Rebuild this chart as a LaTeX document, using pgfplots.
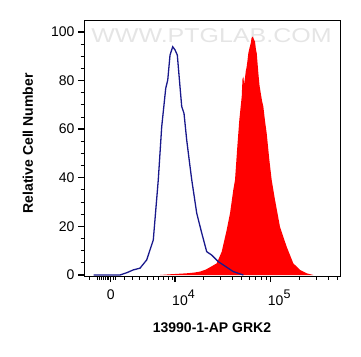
\documentclass[border=0pt]{standalone}
\usepackage{fontspec}
\setmainfont{Liberation Sans}
\usepackage{pgfplots}
\pgfplotsset{compat=1.18}
\definecolor{navyline}{RGB}{25,25,140}
\newcommand{\dec}[1]{\hspace*{17pt}10\raisebox{7.5pt}{\fontsize{12.5}{13}\selectfont #1}}
\begin{document}
\begin{tikzpicture}[x=1pt,y=1pt]
\useasboundingbox (-84,-80) rectangle (277,276);
\begin{axis}[
  at={(0,0)}, anchor=south west,
  scale only axis, width=256pt, height=256pt,
  xmin=3.049, xmax=5.724, ymin=-0.41, ymax=104.9,
  axis line style={line width=0.9pt},
  tick align=outside,
  xtick pos=left, ytick pos=left,
  xtick={3.328,4,5},
  xticklabels={0,\dec{4},\dec{5}},
  minor xtick={3.101,3.185,3.206,3.227,3.248,3.268,3.289,3.309,3.352,3.374,3.467,3.551,3.624,3.707,3.770,3.822,3.875,3.927,3.969,4.301,4.477,4.602,4.699,4.778,4.845,4.903,4.954,5.301,5.477,5.602,5.699},
  ytick={0,20,40,60,80,100},
  minor ytick={5,10,15,25,30,35,45,50,55,65,70,75,85,90,95},
  major tick length=6pt, minor tick length=3.5pt,
  major tick style={black, line width=1.3pt},
  minor tick style={black, line width=0.9pt},
  /pgf/number format/assume math mode=true,
  tick label style={font=\fontsize{14}{15}\selectfont},
  xticklabel style={yshift=-4pt},
  xlabel={13990-1-AP GRK2}, ylabel={Relative Cell Number},
  label style={font=\bfseries\fontsize{14}{16}\selectfont},
  xlabel style={at={(axis description cs:0.5,-0.203)}, anchor=center},
  ylabel style={at={(axis description cs:-0.219,0.518)}, anchor=center},
]
\node[text=gray!20, font=\fontsize{20}{20}\selectfont, xscale=1.25] at (axis description cs:0.498,0.94) {WWW.PTGLAB.COM};
\addplot[draw=none, fill=red] coordinates {
(3.843,0) (3.95,0.3) (4.122,0.7) (4.20,1.0) (4.261,1.4) (4.32,2.2) (4.366,3.2) (4.436,4.8) (4.488,9.6)
(4.540,18.5) (4.575,25.4) (4.609,35.0) (4.627,39.1) (4.651,52.8) (4.672,63.8)
(4.697,73.4) (4.705,80.5) (4.714,81.6) (4.722,78.5) (4.731,81.0) (4.740,84.0) (4.749,85.7) (4.758,88.5) (4.766,91.2)
(4.779,93.5) (4.791,95.3) (4.800,97.5) (4.812,98.1) (4.824,97.0) (4.836,96.0) (4.845,93.0) (4.854,91.2)
(4.871,83.0) (4.883,78.0) (4.896,74.8) (4.910,71.5) (4.923,69.3) (4.940,63.5) (4.958,58.3) (4.986,47.3)
(5.010,39.1) (5.045,30.9) (5.097,19.8) (5.167,11.6) (5.236,4.8) (5.306,2.1)
(5.376,0.7) (5.445,0)
} \closedcycle;
\addplot[navyline, line width=1.3pt] coordinates {
(3.15,0) (3.425,0) (3.50,1.0) (3.564,2.1) (3.634,2.8) (3.704,6.2) (3.773,14.4)
(3.825,39.1) (3.861,61.0) (3.903,76.8) (3.924,80.2) (3.948,90.5) (3.976,93.9)
(4.0,92.6) (4.024,90.5) (4.052,77.5) (4.070,69.3) (4.094,66.5) (4.122,55.6)
(4.157,44.6) (4.175,39.1) (4.227,25.4) (4.279,17.3) (4.331,9.6) (4.383,8.2)
(4.452,5.5) (4.540,3.2) (4.609,1.4) (4.714,0)
};
\end{axis}
\end{tikzpicture}
\end{document}
